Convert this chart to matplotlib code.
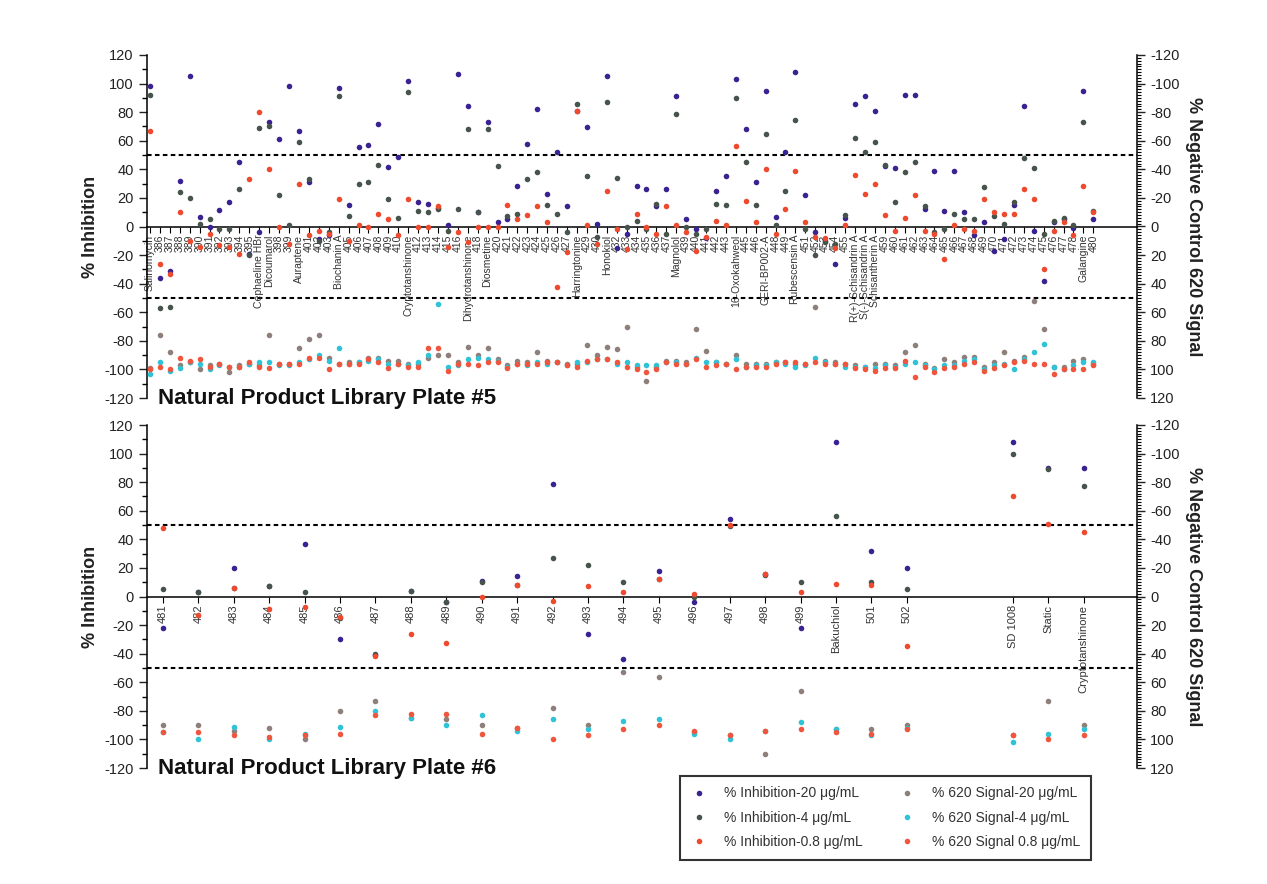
import numpy as np
import matplotlib
matplotlib.use("Agg")
import matplotlib.pyplot as plt
from matplotlib.lines import Line2D
from matplotlib.ticker import MultipleLocator

plt.rcParams['font.family'] = ['Liberation Sans', 'DejaVu Sans']
plt.rcParams['axes.unicode_minus'] = False

# ---------------- Plate #5 ----------------
plate5_labels = [
    "Salinomycin", "386", "387", "388", "389", "390", "391", "392", "393", "394",
    "395", "Cephaeline HBr", "Dicoumarol", "398", "399", "Auraptene", "401", "402", "403",
    "Biochanin A", "405", "406", "407", "408", "409", "410", "Cryptotanshinone", "412",
    "413", "414", "415", "416", "Dihydrotanshinone", "418", "Diosmetine", "420", "421",
    "422", "423", "424", "425", "426", "427", "Harringtonine", "429", "430", "Honokiol",
    "432", "433", "434", "435", "436", "437", "Magnolol", "439", "440", "441", "442",
    "443", "16-Oxokahweol", "445", "446", "GERI-BP002-A", "448", "449", "Rubescensin A",
    "451", "452", "453", "454", "455", "R(+)-Schisandrin A", "S(-)-Schisandrin A",
    "Schisantherin A", "459", "460", "461", "462", "463", "464", "465", "466", "467",
    "468", "469", "470", "471", "472", "473", "474", "475", "476", "477", "478",
    "Galangine", "480",
]

plate5_inh_20 = [
    98, -36, -31, 32, 105, 6.5, 0, 11.5, 17, 45,
    -19, -4, 73, 61, 98, 67, 31, -9, -6, 97,
    15, 55.5, 57, 72, 41.5, 48.5, 102, 17, 16, 13,
    1, 107, 84, 10, 73, 3, 5, 28, 58, 82,
    23, 52, 14, 81, 69.5, 2, 105, -15, -5, 28,
    26, 14, 26, 91, 5, -2, -8, 24.5, 35, 103,
    68, 31, 95, 6.5, 52, 108, 22, -4, -10, -26,
    6, 86, 91, 81, 42, 41, 92, 92, 12, 39,
    10.5, 39, 10, -6, 3, -17, -9, 15, 84, -3,
    -38, 3, 5, -1, 95, 5,
]
plate5_inh_4 = [
    92, -57, -56, 24, 20, 2, 5.5, -2, -2, 26,
    -20, 69, 70, 22, 1, 59, 33, -10, -4, 91,
    7, 30, 31, 43, 19, 6, 94, 11, 10, 12,
    -3, 12, 68, 10, 68, 42, 7.5, 9, 33, 38,
    15, 9, -4, 86, 35, -7, 87, 34, 0, 4,
    -2, 16, -5, 79, 0, -5, -2, 16, 15, 90,
    45, 15, 65, 1, 25, 74.6, -2, -20, -11, -12,
    8, 62, 52, 59, 43, 17, 38, 45, 14, -4,
    -2, 9, 5, 5, 27.5, 7, 2, 17, 48, 41,
    -5, 4, 6, 1, 73, 11,
]
plate5_inh_08 = [
    67, -26, -33, 10, -10, -14, -5, -13, -14, -19,
    33, 80, 40, 0, -12, 30, -6, -3, -5, 19,
    -10, 1, 0, 9, 5, -6, 19, 0, 0, 14,
    -14, -4, -11, 0, 0, 0, 15, 5, 8, 14,
    3, -42, -17.5, 81, 1, -12, 24.5, -2, -16, 9,
    0, -5, 14, 1, -4, -17, -7, 4, 1, 56,
    18, 3, 40, -5, 12, 39, 3, -7, -8, -15,
    1, 36, 23, 30, 8, -3, 6, 22, -3, -5,
    -23, 1, -2, -3, 19, 10, 9, 9, 26, 19,
    -30, -3, 3, -6, 28, 10,
]
plate5_sig_20 = [
    99, 76, 88, 97, 95, 100, 97, 96, 102, 97,
    96, 97, 76, 96, 96, 85, 79, 76, 92, 96,
    95, 95, 92, 92, 94, 94, 96, 96, 92, 90,
    90, 95, 84, 90, 85, 93, 97, 94, 95, 88,
    94, 95, 96, 96, 83, 90, 84, 86, 70, 98,
    108, 98, 94, 94, 95, 72, 87, 95, 96, 90,
    96, 96, 96, 95, 95, 96, 96, 56, 94, 95,
    96, 97, 98, 96, 96, 97, 88, 83, 96, 99,
    93, 95, 91, 91, 98, 95, 88, 94, 91, 52,
    72, 98, 98, 94, 93, 96,
]
plate5_sig_4 = [
    103, 95, 101, 99, 95, 96, 100, 97, 98, 98,
    96, 95, 95, 97, 97, 95, 93, 90, 94, 85,
    96, 95, 94, 93, 96, 96, 97, 95, 90, 54,
    98, 97, 93, 92, 93, 94, 98, 96, 97, 95,
    96, 95, 97, 95, 95, 93, 93, 96, 95, 97,
    97, 97, 95, 95, 96, 92, 95, 95, 96, 93,
    98, 97, 97, 95, 96, 98, 97, 92, 95, 96,
    98, 98, 98, 99, 97, 98, 96, 95, 97, 100,
    97, 97, 94, 93, 100, 97, 96, 100, 93, 88,
    82, 98, 100, 97, 95, 95,
]
plate5_sig_08 = [
    100, 98, 100, 92, 94, 93, 98, 96, 98, 98,
    95, 98, 99, 96, 96, 96, 92, 92, 100, 96,
    96, 96, 93, 95, 99, 96, 98, 98, 85, 85,
    101, 96, 96, 97, 95, 95, 99, 96, 96, 96,
    95, 95, 97, 98, 94, 93, 93, 95, 98, 100,
    102, 100, 95, 96, 96, 93, 98, 97, 96, 100,
    98, 98, 98, 96, 95, 95, 96, 95, 96, 96,
    96, 99, 100, 101, 99, 99, 94, 105, 98, 102,
    99, 98, 96, 95, 101, 99, 97, 95, 94, 96,
    96, 103, 100, 100, 100, 97,
]

# ---------------- Plate #6 ----------------
plate6_labels = [
    "481", "482", "483", "484", "485", "486", "487", "488", "489", "490", "491",
    "492", "493", "494", "495", "496", "497", "498", "499", "Bakuchiol", "501", "502",
    "SD 1008", "Static", "Cryptotanshinone",
]
plate6_inh_20 = [-22, 3, 20, 7.5, 37, -30, -41, 4, -4, 10.5, 14, 79, -26, -44, 18,
                 -4, 54, 16, -22, 108, 31.5, 20, 108, 90, 90]
plate6_inh_4 = [5, 3, 6, 7, 3, -15, -40, 4, -4, 10, 8, 27, 22, 10, 12,
                0, 49, 15, 10, 56, 10, 5, 100, 89, 77]
plate6_inh_08 = [48, -13, 6, -9, -7, -14.5, -41.5, -26, -32.6, 0, 8, -3, 7, 3, 12,
                 2, 50, 16, 3, 9, 8, -34.5, 70, 51, 45]
plate6_sig_20 = [90, 90, 94, 92, 100, 80, 73, 85, 86, 90, 92, 78, 90, 53, 56,
                 95, 97, 110, 66, 93, 93, 90, 97, 73, 90]
plate6_sig_4 = [95, 100, 91, 100, 96, 91, 80, 85, 90, 83, 94, 86, 93, 87, 86,
                96, 100, 94, 88, 93, 97, 92, 102, 96, 93]
plate6_sig_08 = [95, 95, 97, 98, 97, 96, 83, 82, 82, 96, 92, 100, 97, 93, 90,
                 94, 97, 94, 93, 95, 96, 93, 97, 100, 97]

series_names = [
    "% Inhibition-20 \u03bcg/mL", "% Inhibition-4 \u03bcg/mL", "% Inhibition-0.8 \u03bcg/mL",
    "% 620 Signal-20 \u03bcg/mL", "% 620 Signal-4 \u03bcg/mL", "% 620 Signal 0.8 \u03bcg/mL",
]
series_colors = ["#3b2291", "#46544c", "#ee4a2e", "#8e7f7b", "#2ec3d6", "#f0553d"]

W, H = 1267, 884
fig = plt.figure(figsize=(W / 100, H / 100), dpi=100)
fig.patch.set_facecolor("white")


def fx(px):
    return px / W


def fy(py):
    return 1 - py / H


def draw_panel(top_px, bottom_px, labels, positions, xlim, inh, sig, title, label_fs):
    ax = fig.add_axes([fx(147), fy(bottom_px), fx(1137) - fx(147), fy(top_px) - fy(bottom_px)])
    ax2 = ax.twinx()
    ax.set_xlim(*xlim)
    ax.set_ylim(-120, 120)
    ax2.set_ylim(120, -120)

    for s in ["top", "right"]:
        ax.spines[s].set_visible(False)
    ax.spines["bottom"].set_position(("data", 0))
    ax.spines["bottom"].set_linewidth(1.1)
    ax.spines["left"].set_linewidth(1.1)
    for s in ["top", "left", "bottom"]:
        ax2.spines[s].set_visible(False)
    ax2.spines["right"].set_linewidth(1.1)

    ax.yaxis.set_major_locator(MultipleLocator(20))
    ax.yaxis.set_minor_locator(MultipleLocator(10))
    ax2.yaxis.set_major_locator(MultipleLocator(20))
    ax2.yaxis.set_minor_locator(MultipleLocator(2))
    ax.tick_params(axis="y", which="major", length=6, width=1, labelsize=10.5, colors="#222222")
    ax.tick_params(axis="y", which="minor", length=3.5, width=1)
    ax2.tick_params(axis="y", which="major", length=6, width=1, labelsize=10.5, colors="#222222")
    ax2.tick_params(axis="y", which="minor", length=3, width=0.8)

    ax.set_xticks(positions)
    ax.set_xticklabels(labels, rotation=90, fontsize=label_fs, color="#333333")
    ax.tick_params(axis="x", length=4, width=0.8, pad=2)

    for yv in (50, -50):
        ax.axhline(yv, color="black", lw=1.5, ls=(0, (2.2, 1.6)), zorder=1)

    for vals, c in zip(inh, series_colors[:3]):
        ax.plot(positions, vals, ls="none", marker="o", ms=4, mew=0, color=c, zorder=4)
    for vals, c in zip(sig, series_colors[3:]):
        ax2.plot(positions, vals, ls="none", marker="o", ms=4, mew=0, color=c, zorder=3)

    ax.set_ylabel("% Inhibition", fontsize=13, fontweight="bold", color="#222222", labelpad=4)
    ax2.set_ylabel("% Negative Control 620 Signal", fontsize=13, fontweight="bold",
                   color="#222222", rotation=270, labelpad=16)
    fig.text(fx(158), fy(bottom_px + 6), title, fontsize=16, fontweight="bold",
             color="#111111", ha="left", va="baseline")
    return ax, ax2


pos5 = np.arange(len(plate5_labels))
draw_panel(55, 398, plate5_labels, pos5, (-0.3, 99.4),
           [plate5_inh_20, plate5_inh_4, plate5_inh_08],
           [plate5_sig_20, plate5_sig_4, plate5_sig_08],
           "Natural Product Library Plate #5", 7.5)

pos6 = np.r_[np.arange(22), np.arange(24, 27)]
draw_panel(425, 768, plate6_labels, pos6, (-0.45, 27.5),
           [plate6_inh_20, plate6_inh_4, plate6_inh_08],
           [plate6_sig_20, plate6_sig_4, plate6_sig_08],
           "Natural Product Library Plate #6", 8)

handles = [Line2D([], [], ls="none", marker="o", ms=4, mew=0, color=c) for c in series_colors]
leg = fig.legend(handles, series_names, ncol=2, loc="upper left",
                 bbox_to_anchor=(fx(680), fy(776)), borderaxespad=0.0, frameon=True,
                 fancybox=False, edgecolor="black", fontsize=10, handlelength=1.2,
                 handletextpad=1.2, columnspacing=2.6, borderpad=0.75, labelspacing=0.75)
leg.get_frame().set_linewidth(1.5)
for t in leg.get_texts():
    t.set_color("#333333")

fig.savefig("out.png", dpi=100, facecolor="white")
